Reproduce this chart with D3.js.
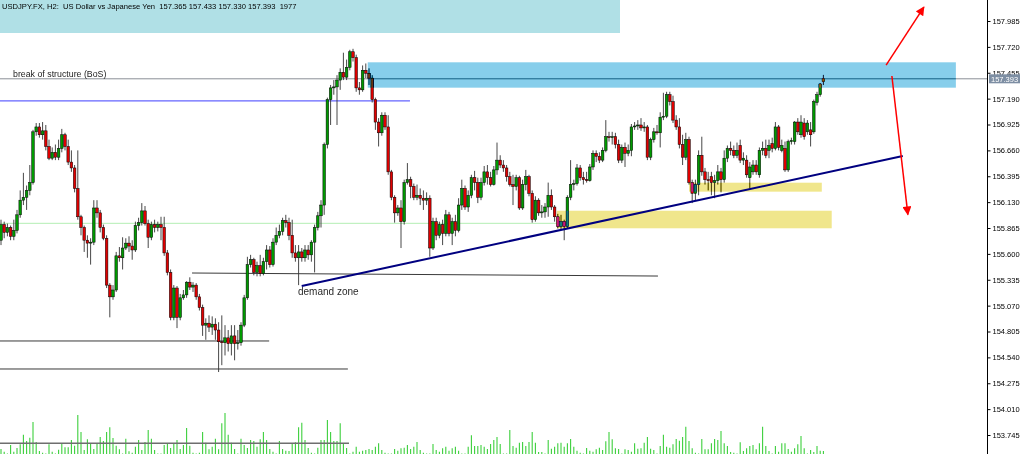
<!DOCTYPE html>
<html><head><meta charset="utf-8">
<script src="https://cdn.jsdelivr.net/npm/d3@7"></script>
<style>
html,body{margin:0;padding:0;background:#fff;overflow:hidden;}
svg{display:block;}
text{white-space:pre;}
</style></head><body>
<svg id="chart" width="1024" height="454"></svg>
<script>
// ---------------- DATA ----------------
const openP = [
155.74,155.90,155.82,155.87,155.78,155.84,156.00,156.15,156.18,156.25,
156.33,156.85,156.90,156.82,156.86,156.70,156.58,156.64,156.59,156.68,
156.82,156.70,156.54,156.48,156.27,155.98,155.87,155.74,155.71,155.72,
156.07,156.02,155.87,155.76,155.28,155.16,155.23,155.58,155.56,155.66,
155.71,155.68,155.64,155.89,155.92,156.04,155.91,155.77,155.90,155.87,
155.90,155.87,155.61,155.41,154.95,155.25,154.95,155.15,155.18,155.31,
155.26,155.28,155.16,155.05,154.87,154.89,154.85,154.88,154.82,154.70,
154.69,154.74,154.68,154.76,154.68,154.69,154.87,155.15,155.49,155.54,
155.41,155.48,155.40,155.52,155.64,155.49,155.72,155.79,155.83,155.94,
155.92,155.79,155.61,155.56,155.62,155.56,155.64,155.59,155.72,155.87,
155.99,156.10,156.72,157.18,157.30,157.31,157.38,157.46,157.41,157.51,
157.67,157.61,157.30,157.28,157.48,157.45,157.40,157.18,156.95,156.84,
157.02,156.90,156.44,156.18,156.02,156.07,155.93,156.33,156.36,156.29,
156.18,156.20,156.17,156.15,156.17,155.66,155.93,155.79,155.90,155.81,
156.00,155.81,155.93,155.84,156.10,156.27,156.08,156.20,156.38,156.33,
156.18,156.33,156.44,156.38,156.31,156.46,156.56,156.51,156.48,156.39,
156.31,156.29,156.38,156.07,156.31,156.39,156.22,155.95,156.15,156.02,
156.03,156.08,156.20,156.08,155.98,155.88,155.93,155.88,156.18,156.31,
156.32,156.48,156.38,156.36,156.35,156.49,156.63,156.60,156.56,156.66,
156.80,156.79,156.80,156.72,156.56,156.69,156.63,156.66,156.90,156.91,
156.92,156.89,156.90,156.59,156.77,156.85,156.84,157.00,157.01,157.23,
157.16,156.97,156.90,156.72,156.59,156.77,156.33,156.22,156.31,156.61,
156.44,156.36,156.39,156.33,156.35,156.44,156.36,156.58,156.68,156.66,
156.61,156.71,156.56,156.56,156.38,156.44,156.51,156.41,156.66,156.68,
156.66,156.73,156.68,156.90,156.66,156.68,156.46,156.75,156.75,156.95,
156.82,156.94,156.85,156.87,156.85,157.15,157.23,157.365];
const highP = [
155.95,155.93,155.91,155.89,155.95,156.05,156.25,156.43,156.30,156.51,
156.87,156.94,156.94,156.95,156.92,156.77,156.69,156.72,156.77,156.88,
156.84,156.77,156.66,156.51,156.66,156.00,155.89,155.79,155.76,156.15,
156.15,156.05,155.90,155.79,155.30,155.28,155.62,155.67,155.77,155.76,
155.78,155.74,155.93,155.97,156.12,156.09,155.95,155.93,155.95,155.93,
155.98,155.98,155.64,155.44,155.28,155.27,155.19,155.23,155.32,155.36,
155.31,155.30,155.19,155.08,154.94,154.97,154.96,154.94,154.90,154.97,
154.87,154.82,154.87,154.87,154.82,154.90,155.18,155.57,155.59,155.56,
155.52,155.59,155.56,155.69,155.68,155.76,155.87,155.90,155.97,156.00,
155.97,155.95,155.69,155.69,155.66,155.69,155.69,155.74,155.90,156.03,
156.15,156.74,157.20,157.33,157.38,157.43,157.50,157.66,157.59,157.69,
157.70,157.64,157.36,157.53,157.55,157.50,157.43,157.20,156.99,157.05,
157.05,157.02,156.46,156.20,156.10,156.15,156.36,156.53,156.39,156.32,
156.31,156.27,156.25,156.23,156.20,155.97,155.97,155.93,155.95,156.05,
156.03,155.97,156.00,156.17,156.36,156.30,156.25,156.41,156.45,156.38,
156.38,156.50,156.51,156.44,156.50,156.74,156.61,156.56,156.51,156.44,
156.41,156.41,156.40,156.36,156.46,156.41,156.25,156.19,156.17,156.10,
156.12,156.33,156.26,156.10,156.01,156.00,155.95,156.20,156.56,156.36,
156.52,156.51,156.44,156.44,156.52,156.66,156.66,156.64,156.69,156.97,
156.85,156.85,156.84,156.77,156.72,156.74,156.72,156.93,156.95,156.97,
156.99,156.95,156.92,156.79,156.89,156.92,157.05,157.25,157.26,157.26,
157.22,157.02,156.99,156.82,156.84,156.80,156.36,156.36,156.66,156.80,
156.48,156.44,156.44,156.41,156.51,156.48,156.66,156.71,156.75,156.71,
156.74,156.77,156.64,156.61,156.54,156.56,156.56,156.69,156.75,156.77,
156.77,156.79,156.95,156.92,156.77,156.75,156.77,156.79,156.96,156.99,
157.02,156.99,156.97,156.95,157.18,157.26,157.35,157.433];
const lowP = [
155.69,155.76,155.78,155.74,155.74,155.81,155.97,156.10,156.05,156.20,
156.31,156.81,156.79,156.77,156.66,156.56,156.56,156.56,156.56,156.64,
156.66,156.51,156.44,156.23,155.95,155.79,155.62,155.56,155.49,155.69,
155.97,155.82,155.74,155.25,154.95,155.13,155.21,155.52,155.44,155.64,
155.62,155.54,155.62,155.84,155.89,155.89,155.66,155.74,155.82,155.83,
155.74,155.58,155.38,154.92,154.92,154.84,154.92,155.13,155.15,155.23,
155.21,155.13,155.02,154.76,154.72,154.80,154.77,154.72,154.39,154.46,
154.56,154.60,154.56,154.51,154.62,154.66,154.85,155.13,155.46,155.38,
155.37,155.37,155.38,155.44,155.46,155.47,155.69,155.76,155.79,155.87,
155.74,155.56,155.52,155.28,155.52,155.52,155.54,155.52,155.41,155.84,
155.87,156.00,156.68,156.92,157.23,156.92,157.28,157.38,157.38,157.48,
157.57,157.26,157.23,157.26,157.40,157.33,157.15,156.87,156.70,156.81,
156.87,156.41,156.15,155.92,155.99,155.66,155.90,156.31,156.17,156.15,
156.15,156.10,156.05,156.10,155.57,155.64,155.74,155.76,155.69,155.78,
155.78,155.69,155.78,155.82,156.05,156.05,156.03,156.17,156.25,156.12,
156.15,156.30,156.31,156.29,156.30,156.41,156.48,156.44,156.34,156.29,
156.10,156.25,156.05,156.05,156.25,156.19,155.92,155.93,155.99,155.97,
155.97,155.98,156.05,155.93,155.86,155.85,155.74,155.86,156.15,156.25,
156.30,156.35,156.31,156.33,156.34,156.46,156.54,156.53,156.54,156.64,
156.75,156.72,156.68,156.53,156.53,156.49,156.60,156.60,156.87,156.87,
156.86,156.85,156.56,156.56,156.74,156.82,156.69,156.97,156.99,157.12,
156.94,156.87,156.68,156.51,156.56,156.31,156.12,156.15,156.20,156.40,
156.31,156.25,156.20,156.17,156.31,156.23,156.33,156.54,156.61,156.58,
156.58,156.53,156.51,156.38,156.27,156.41,156.41,156.38,156.61,156.58,
156.58,156.64,156.66,156.66,156.64,156.44,156.44,156.72,156.72,156.82,
156.79,156.77,156.82,156.70,156.83,157.12,157.21,157.330];
const closeP = [
155.90,155.82,155.87,155.78,155.84,156.00,156.15,156.18,156.25,156.33,
156.85,156.90,156.82,156.86,156.70,156.58,156.64,156.59,156.68,156.82,
156.70,156.54,156.48,156.27,155.98,155.87,155.74,155.71,155.72,156.07,
156.02,155.87,155.76,155.28,155.16,155.23,155.58,155.56,155.66,155.71,
155.68,155.64,155.89,155.92,156.04,155.91,155.77,155.90,155.87,155.90,
155.87,155.61,155.41,154.95,155.25,154.95,155.15,155.18,155.31,155.26,
155.28,155.16,155.05,154.87,154.89,154.85,154.88,154.82,154.70,154.69,
154.74,154.68,154.76,154.68,154.69,154.87,155.15,155.49,155.54,155.41,
155.48,155.40,155.52,155.64,155.49,155.72,155.79,155.83,155.94,155.92,
155.79,155.61,155.56,155.62,155.56,155.64,155.59,155.72,155.87,155.99,
156.10,156.72,157.18,157.30,157.31,157.38,157.46,157.41,157.51,157.67,
157.61,157.30,157.28,157.48,157.45,157.40,157.18,156.95,156.84,157.02,
156.90,156.44,156.18,156.02,156.07,155.93,156.33,156.36,156.29,156.18,
156.20,156.17,156.15,156.17,155.66,155.93,155.79,155.90,155.81,156.00,
155.81,155.93,155.84,156.10,156.27,156.08,156.20,156.38,156.33,156.18,
156.33,156.44,156.38,156.31,156.46,156.56,156.51,156.48,156.39,156.31,
156.29,156.38,156.07,156.31,156.39,156.22,155.95,156.15,156.02,156.03,
156.08,156.20,156.08,155.98,155.88,155.93,155.88,156.18,156.31,156.32,
156.48,156.38,156.36,156.35,156.49,156.63,156.60,156.56,156.66,156.80,
156.79,156.80,156.72,156.56,156.69,156.63,156.66,156.90,156.91,156.92,
156.89,156.90,156.59,156.77,156.85,156.84,157.00,157.01,157.23,157.16,
156.97,156.90,156.72,156.59,156.77,156.33,156.22,156.31,156.61,156.44,
156.36,156.35,156.33,156.35,156.44,156.36,156.58,156.68,156.66,156.61,
156.66,156.56,156.58,156.41,156.49,156.51,156.44,156.66,156.68,156.61,
156.71,156.68,156.90,156.69,156.71,156.46,156.75,156.76,156.95,156.85,
156.95,156.80,156.94,156.82,157.16,157.23,157.34,157.393];
const volume = [
3250,1500,300,5850,1500,3900,6300,12550,8450,10600,
20800,7800,1950,850,300,6300,1500,300,2800,6500,
4350,4350,9100,5400,25350,14300,2600,9550,7150,3250,
6950,11050,8450,14300,17350,10400,5400,3050,300,9950,
1750,850,4750,9100,2600,7800,15600,9950,2600,400,
400,5850,7150,3900,7150,9100,3250,5850,16900,5400,
850,400,850,14300,7350,3050,4750,9950,3050,19950,
26650,12550,7350,3250,400,9950,5850,3900,9100,8450,
4750,9550,14300,9100,3250,1500,400,8450,3250,2150,
1950,6950,7600,17350,20350,9100,3900,850,400,4100,
9100,9100,22100,14300,8450,8450,19950,6950,3900,400,
1500,4750,1500,2150,2600,3250,2600,4750,6950,2600,
850,400,400,3250,2150,3700,4100,5850,3250,4750,
7800,2600,850,400,400,6500,2600,1500,3700,4750,
2150,3700,4750,2150,400,400,4750,12150,5200,5200,
5850,4750,3250,6500,9100,11050,6500,400,400,15600,
5200,4100,7350,7800,5200,7800,14300,7350,1300,1300,
400,9100,3450,4750,6950,7350,4750,6950,9750,4750,
2150,850,400,3900,2150,1500,3050,4100,2600,8250,
14300,9550,3700,3250,400,3050,2600,1500,6950,3450,
3700,7350,11050,3450,2600,400,5200,12550,4750,4100,
6300,9750,8650,11050,17750,8450,3700,850,400,9750,
3050,3050,6950,9750,9100,14950,6950,5200,1300,850,
400,7600,1950,3700,5200,5850,3050,6950,17750,5200,
1950,400,5200,1500,6950,6950,3250,1500,3700,6300,
11700,3700,400,2600,1300,5200,2150,1977];
const tickLabels = ["157.985","157.720","157.455","157.190","156.925","156.660","156.395","156.130",
  "155.865","155.600","155.335","155.070","154.805","154.540","154.275","154.010","153.745"];
const headerText = "USDJPY.FX, H2:  US Dollar vs Japanese Yen  157.365 157.433 157.330 157.393  1977";
const lastPrice = 157.393;

// ---------------- CHART ----------------
const W = 1024, H = 454, N = closeP.length;
const svg = d3.select('#chart');
const axisX = 987;
const x = d3.scaleLinear().domain([0, N - 1]).range([1, 1 + 3.2 * (N - 1)]);
const y = d3.scaleLinear().domain([+tickLabels[tickLabels.length-1], +tickLabels[0]]).range([435, 21]);
const yv = d3.scaleLinear().domain([0, 28000]).range([454, 411]);
const FONT = "'Liberation Sans', Arial, sans-serif";

svg.append('rect').attr('width', W).attr('height', H).attr('fill', '#fff');

// header band
svg.append('rect').attr('x', 0).attr('y', 0).attr('width', 620).attr('height', 33).attr('fill', '#b0e0e6');

// volume bars
svg.append('g').selectAll('line').data(volume).join('line')
  .attr('x1', (d, i) => x(i)).attr('x2', (d, i) => x(i))
  .attr('y1', yv(0)).attr('y2', d => yv(d))
  .attr('stroke', '#3ccf3c').attr('stroke-width', 1.1);

// horizontal annotation lines (index, price)
const hLines = [
  {a: -1, b: 108.75, p: 153.66, c: '#6e6e6e', w: 1.6},
  {a: -1, b: 83.8, p: 154.708, c: '#3a3a3a', w: 1},
  {a: -1, b: 108.4, p: 154.421, c: '#3a3a3a', w: 1},
  {a: -1, b: 127.8, p: 157.166, c: '#6464ff', w: 1.3},
  {a: -1, b: 173.7, p: 155.913, c: '#b4eeb4', w: 1}
];
svg.append('g').selectAll('line').data(hLines).join('line')
  .attr('x1', d => x(d.a)).attr('x2', d => Math.min(x(d.b), axisX))
  .attr('y1', d => y(d.p)).attr('y2', d => y(d.p))
  .attr('stroke', d => d.c).attr('stroke-width', d => d.w);

// slanted black line
svg.append('line').attr('x1', x(59.7)).attr('y1', y(155.404)).attr('x2', x(205.3)).attr('y2', y(155.373))
  .attr('stroke', '#3a3a3a').attr('stroke-width', 1);

// bid line
svg.append('line').attr('x1', 0).attr('x2', axisX).attr('y1', y(lastPrice)).attr('y2', y(lastPrice))
  .attr('stroke', '#8a8f96').attr('stroke-width', 1);

// candles
const cg = svg.append('g');
const idx = d3.range(N);
cg.selectAll('line').data(idx).join('line')
  .attr('x1', i => x(i)).attr('x2', i => x(i))
  .attr('y1', i => y(highP[i])).attr('y2', i => y(lowP[i]))
  .attr('stroke', '#333').attr('stroke-width', 0.9);
cg.selectAll('rect').data(idx).join('rect')
  .attr('x', i => x(i) - 1.3).attr('width', 2.6)
  .attr('y', i => y(Math.max(openP[i], closeP[i])))
  .attr('height', i => Math.max(0.8, Math.abs(y(openP[i]) - y(closeP[i]))))
  .attr('fill', i => closeP[i] >= openP[i] ? '#009a00' : '#e00000')
  .attr('stroke', '#000').attr('stroke-width', 0.5);

// zone rectangles (XOR-like blending)
const zones = [
  {a: 114.6, b: 298.4, p1: 157.562, p2: 157.302, fill: '#783114'},
  {a: 173.7, b: 259.6, p1: 156.042, p2: 155.862, fill: '#0f1973'},
  {a: 215.0, b: 256.5, p1: 156.329, p2: 156.237, fill: '#0f1973'}
];
svg.append('g').selectAll('rect').data(zones).join('rect')
  .attr('x', d => x(d.a)).attr('width', d => x(d.b) - x(d.a))
  .attr('y', d => y(d.p1)).attr('height', d => y(d.p2) - y(d.p1))
  .attr('fill', d => d.fill).style('mix-blend-mode', 'difference');

// trend line
svg.append('line').attr('x1', x(93.97)).attr('y1', y(155.271)).attr('x2', x(281.8)).attr('y2', y(156.602))
  .attr('stroke', '#000080').attr('stroke-width', 2);

// arrows
const defs = svg.append('defs');
defs.append('marker').attr('id', 'ah').attr('viewBox', '0 0 10 10').attr('refX', 9).attr('refY', 5)
  .attr('markerWidth', 10).attr('markerHeight', 9).attr('markerUnits', 'userSpaceOnUse').attr('orient', 'auto')
  .append('path').attr('d', 'M0,0 L10,5 L0,10 Z').attr('fill', '#ff0000');
const arrows = [
  {a: 276.6, p1: 157.534, b: 288.4, p2: 158.128},
  {a: 278.4, p1: 157.422, b: 283.4, p2: 156.002}
];
svg.append('g').selectAll('line').data(arrows).join('line')
  .attr('x1', d => x(d.a)).attr('y1', d => y(d.p1)).attr('x2', d => x(d.b)).attr('y2', d => y(d.p2))
  .attr('stroke', '#ff0000').attr('stroke-width', 1.5).attr('marker-end', 'url(#ah)');

// texts
svg.append('text').attr('x', 2).attr('y', 9).attr('font-family', FONT).attr('font-size', 7.6)
  .attr('fill', '#000').text(headerText);
svg.append('text').attr('x', 13).attr('y', 77).attr('font-family', FONT).attr('font-size', 8.8)
  .attr('fill', '#222').text('break of structure (BoS)');
svg.append('text').attr('x', 298).attr('y', 295).attr('font-family', FONT).attr('font-size', 10)
  .attr('fill', '#2a2a2a').text('demand zone');

// axis
const ag = svg.append('g').attr('transform', `translate(${axisX + 0.5},0)`)
  .call(d3.axisRight(y).tickValues(tickLabels.map(Number)).tickSize(3).tickPadding(2).tickFormat(d3.format('.3f')));
ag.select('.domain').remove();
ag.selectAll('line').attr('stroke', '#000');
ag.selectAll('text').attr('font-family', FONT).attr('font-size', 7.5).attr('fill', '#000');
svg.append('line').attr('x1', axisX + 0.5).attr('x2', axisX + 0.5).attr('y1', 0).attr('y2', H)
  .attr('stroke', '#000').attr('stroke-width', 1);

// last price box
svg.append('rect').attr('x', axisX + 2).attr('y', y(lastPrice) - 4.5).attr('width', 31).attr('height', 9)
  .attr('fill', '#7d8ea3');
svg.append('text').attr('x', axisX + 4).attr('y', y(lastPrice) + 3).attr('font-family', FONT).attr('font-size', 7.5)
  .attr('fill', '#fff').text(d3.format('.3f')(lastPrice));
</script>
</body></html>
